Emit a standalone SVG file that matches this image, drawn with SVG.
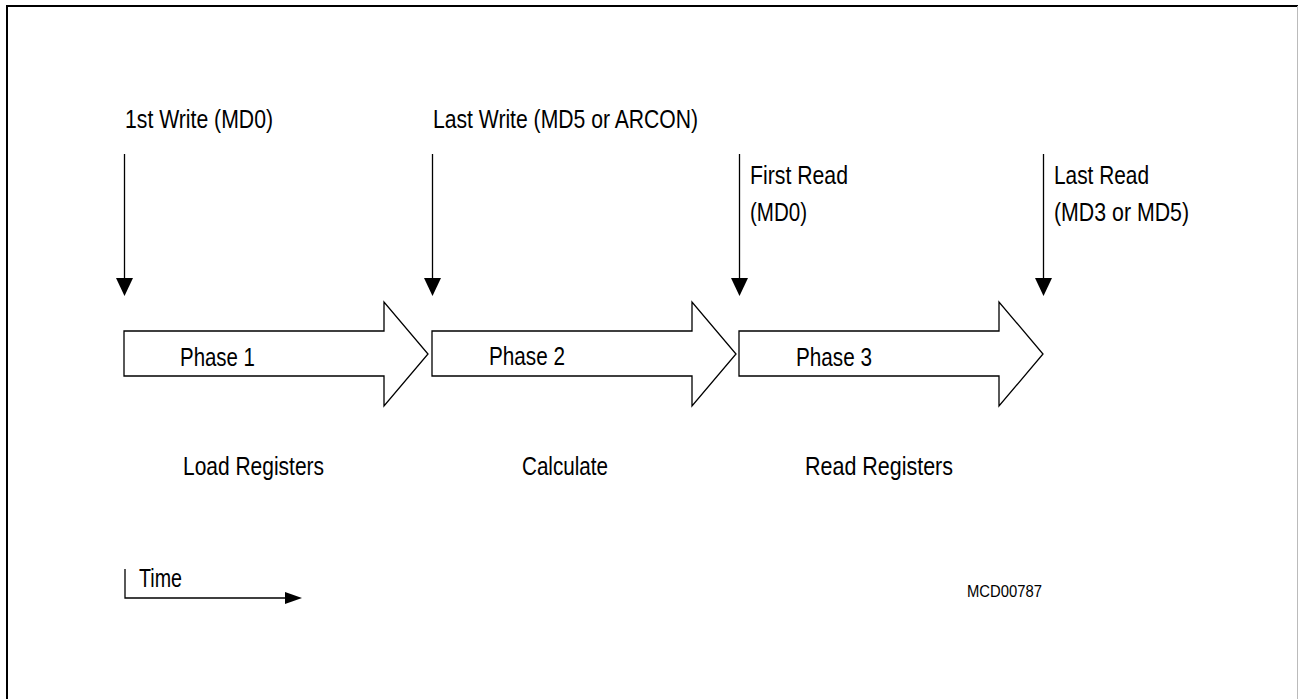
<svg xmlns="http://www.w3.org/2000/svg" width="1298" height="699" viewBox="0 0 1298 699">
<style>
.t{font-family:"Liberation Sans Narrow","Liberation Sans",Arial,sans-serif;font-size:25px;fill:#000}
.s{font-family:"Liberation Sans Narrow","Liberation Sans",Arial,sans-serif;font-size:17px;fill:#000}
.ln{stroke:#000;stroke-width:1.3;fill:none}
.blk{fill:#fff;stroke:#000;stroke-width:1.3;stroke-linejoin:miter}
.hd{fill:#000;stroke:none}
</style>
<rect x="0" y="0" width="1298" height="699" fill="#fff"/>
<g id="frame">
<line x1="7" y1="5" x2="7" y2="699" stroke="#000" stroke-width="2"/>
<line x1="6" y1="6" x2="1298" y2="6" stroke="#000" stroke-width="2"/>
<line x1="1297.5" y1="6" x2="1297.5" y2="699" stroke="#bbb" stroke-width="1"/>
</g>
<g id="connectors">
<line class="ln" x1="124.5" y1="154" x2="124.5" y2="282"/>
<polygon class="hd" points="116,278 133,278 124.5,296"/>
<line class="ln" x1="432.5" y1="154" x2="432.5" y2="282"/>
<polygon class="hd" points="424,278 441,278 432.5,296"/>
<line class="ln" x1="739.5" y1="154" x2="739.5" y2="282"/>
<polygon class="hd" points="731,278 748,278 739.5,296"/>
<line class="ln" x1="1043.5" y1="154" x2="1043.5" y2="282"/>
<polygon class="hd" points="1035,278 1052,278 1043.5,296"/>
</g>
<g id="phase1">
<polygon class="blk" points="124,331 384,331 384,302 428,354 384,406 384,376 124,376"/>
<text class="t" x="180" y="366" textLength="75" lengthAdjust="spacingAndGlyphs">Phase 1</text>
</g>
<g id="phase2">
<polygon class="blk" points="432,331 692,331 692,302 736,354 692,406 692,376 432,376"/>
<text class="t" x="489" y="365" textLength="76" lengthAdjust="spacingAndGlyphs">Phase 2</text>
</g>
<g id="phase3">
<polygon class="blk" points="739,331 999,331 999,302 1043,354 999,406 999,376 739,376"/>
<text class="t" x="796" y="366" textLength="76" lengthAdjust="spacingAndGlyphs">Phase 3</text>
</g>
<g id="labels">
<text class="t" x="125" y="128" textLength="148" lengthAdjust="spacingAndGlyphs">1st Write (MD0)</text>
<text class="t" x="433" y="128" textLength="265" lengthAdjust="spacingAndGlyphs">Last Write (MD5 or ARCON)</text>
<text class="t" x="750" y="184" textLength="98" lengthAdjust="spacingAndGlyphs">First Read</text>
<text class="t" x="750" y="221" textLength="57" lengthAdjust="spacingAndGlyphs">(MD0)</text>
<text class="t" x="1054" y="184" textLength="95" lengthAdjust="spacingAndGlyphs">Last Read</text>
<text class="t" x="1054" y="221" textLength="135" lengthAdjust="spacingAndGlyphs">(MD3 or MD5)</text>
<text class="t" x="183" y="475" textLength="141" lengthAdjust="spacingAndGlyphs">Load Registers</text>
<text class="t" x="522" y="475" textLength="86" lengthAdjust="spacingAndGlyphs">Calculate</text>
<text class="t" x="805" y="475" textLength="148" lengthAdjust="spacingAndGlyphs">Read Registers</text>
</g>
<g id="time">
<polyline class="ln" points="125,569 125,598 288,598"/>
<polygon class="hd" points="285,592 302,598 285,604"/>
<text class="t" x="139" y="587" font-size="23" textLength="43" lengthAdjust="spacingAndGlyphs">Time</text>
</g>
<g id="code">
<text class="s" x="967" y="597" textLength="75" lengthAdjust="spacingAndGlyphs">MCD00787</text>
</g>
</svg>
